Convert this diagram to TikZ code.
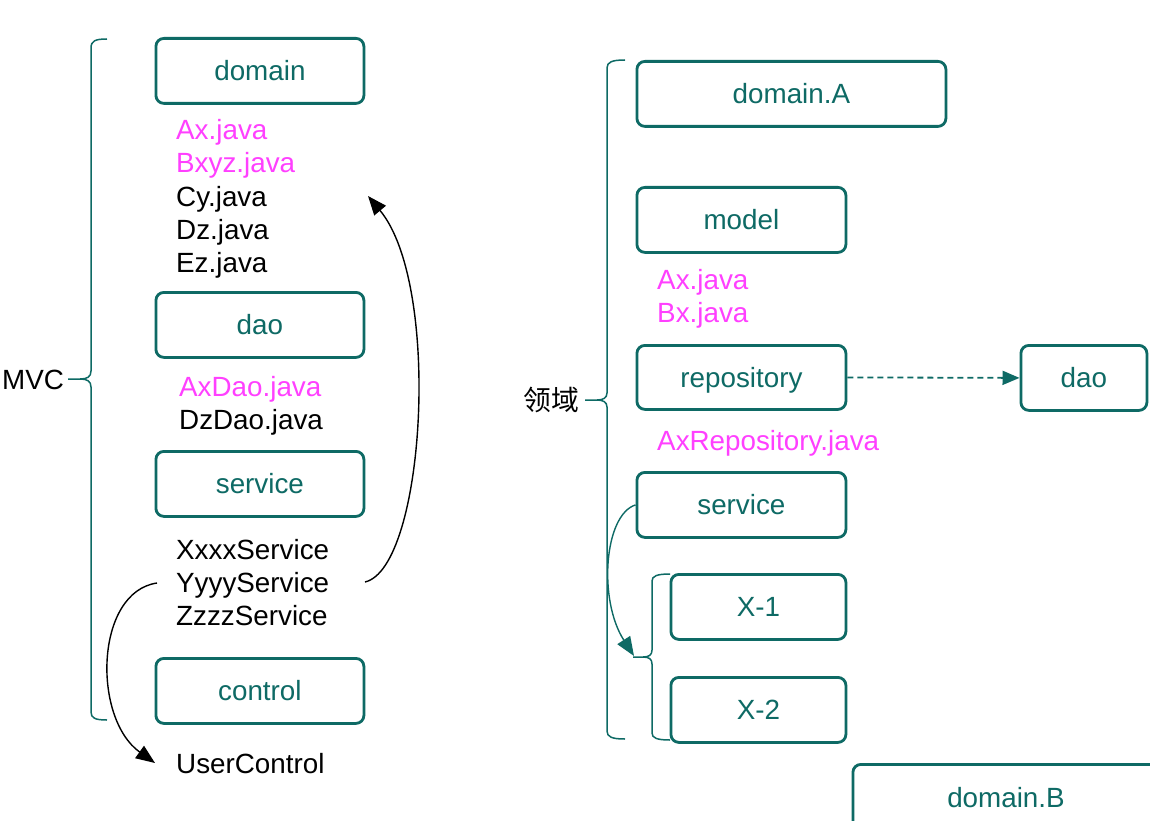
\documentclass[tikz,border=0pt]{standalone}
\usepackage{fontspec}
\setmainfont{Liberation Sans}
\newfontfamily\cjk{Noto Sans CJK SC}
\usetikzlibrary{arrows.meta}
\definecolor{teal1}{RGB}{14,106,101}
\definecolor{mag}{RGB}{255,64,255}
\tikzset{
  box/.style={draw=teal1, line width=2.8pt, rounded corners=8pt, text=teal1, font=\fontsize{27.8}{33}\selectfont, text height=20pt, text depth=0pt, inner sep=0pt, anchor=north west},
  txt/.style={font=\fontsize{27.8}{33}\selectfont, text height=20pt, text depth=0pt, inner sep=0pt, anchor=west},
  pink/.style={txt, text=mag},
  brace/.style={draw=teal1, line width=1.5pt},
  blackarrow/.style={draw=black, line width=1.4pt, -{Triangle[length=19pt,width=15pt]}},
  tealarrow/.style={draw=teal1, line width=1.4pt, -{Triangle[length=19pt,width=15pt]}},
}
\begin{document}
\begin{tikzpicture}[x=1pt,y=-1pt]
\useasboundingbox (0,0) rectangle (1150,821);
\fill[white] (0,0) rectangle (1150,821);

% ---------- left (MVC) ----------
\node[box, minimum width=208pt, minimum height=65pt] (domain) at (154.5,37) {domain};
\node[box, minimum width=208pt, minimum height=65pt] (dao) at (154.5,291) {dao};
\node[box, minimum width=208pt, minimum height=65pt] (service) at (154.5,450) {service};
\node[box, minimum width=208pt, minimum height=65pt] (control) at (154.5,657) {control};

\node[pink] (ax) at (176,130) {Ax.java};
\node[pink] (bxyz) at (176,163) {Bxyz.java};
\node[txt] (cy) at (176,196) {Cy.java};
\node[txt] (dz) at (176,229) {Dz.java};
\node[txt] (ez) at (176,262) {Ez.java};
\node[pink] (axdao) at (179,386) {AxDao.java};
\node[txt] (dzdao) at (179,419) {DzDao.java};
\node[txt] (xs) at (176,549) {XxxxService};
\node[txt] (ys) at (176,582) {YyyyService};
\node[txt] (zs) at (176,615) {ZzzzService};
\node[txt] (uc) at (176,763) {UserControl};
\node[txt] (mvc) at (2,379) {MVC};

\path[brace] (107,39) .. controls (95,39) and (91,41) .. (91,48) -- (91,371)
  .. controls (91,377) and (87,379) .. (80,379) -- (68,379);
\path[brace] (80,379) .. controls (87,379) and (91,381) .. (91,387) -- (91,712)
  .. controls (91,718) and (95,720) .. (107,720);

\coordinate (a1s) at (365,582);
\coordinate (a1e) at (368,196);
\path[blackarrow] (a1s) .. controls (425,568) and (442,285) .. (a1e);
\coordinate (a2s) at (157,583);
\coordinate (a2e) at (155,763);
\path[blackarrow] (a2s) .. controls (95,592) and (92,718) .. (a2e);

% ---------- right (领域) ----------
\node[box, minimum width=309pt, minimum height=65pt] (domA) at (635.5,60) {domain.A};
\node[box, minimum width=209pt, minimum height=65pt] (model) at (635.5,186) {model};
\node[pink] (ax2) at (657,279) {Ax.java};
\node[pink] (bx2) at (657,312) {Bx.java};
\node[box, minimum width=209pt, minimum height=64pt] (repo) at (635.5,344) {repository};
\node[box, minimum width=126pt, minimum height=65pt] (dao2) at (1019.5,344) {dao};
\node[pink] (axrepo) at (657,440) {AxRepository.java};
\node[box, minimum width=209pt, minimum height=65pt] (service2) at (635.5,471) {service};
\node[box, minimum width=175pt, minimum height=65pt] (x1) at (669.5,573) {X-1};
\node[box, minimum width=175pt, minimum height=65pt] (x2) at (669.5,676) {X-2};
\node[txt, font=\cjk\fontsize{27.8}{33}\selectfont] (ly) at (523,400) {领域};

\path[brace] (625,60) .. controls (612,60) and (607,62) .. (607,68) -- (607,393)
  .. controls (607,398) and (603,400) .. (597,400) -- (585,400);
\path[brace] (597,400) .. controls (603,400) and (607,402) .. (607,407) -- (607,731)
  .. controls (607,737) and (612,739) .. (625,739);

\path[brace] (670,574) .. controls (657,574) and (652,576) .. (652,581) -- (652,650)
  .. controls (652,655) and (649,657) .. (643,657) -- (633,657);
\path[brace] (643,657) .. controls (649,657) and (652,659) .. (652,664) -- (652,733)
  .. controls (652,738) and (657,740) .. (670,740);

\draw[draw=teal1, line width=1.8pt, dash pattern=on 6pt off 4pt, -{Triangle[length=17pt,width=14pt]}] (repo.east) -- (dao2.west);

\coordinate (a3e) at (634,656);
\path[tealarrow] (service2.west) .. controls (604,515) and (598,600) .. (a3e);

\node[box, minimum width=320pt, minimum height=80pt] (domB) at (851.5,763) {};
\node[txt, anchor=center, text=teal1] (domBt) at (1006,797) {domain.B};
\end{tikzpicture}
\end{document}
